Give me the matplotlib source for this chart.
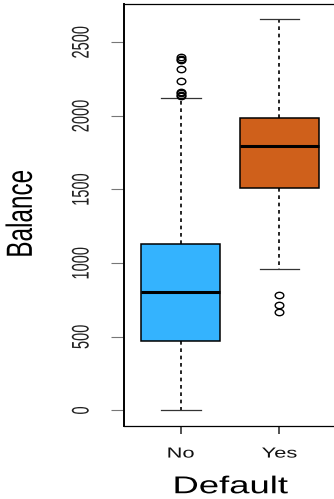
import matplotlib
matplotlib.use("Agg")
import matplotlib.pyplot as plt
from matplotlib import patheffects
from matplotlib.path import Path
from matplotlib.transforms import Affine2D

plt.rcParams['font.family'] = ['Liberation Sans', 'DejaVu Sans']

categories = ["No", "Yes"]
colors = ["#34B3FE", "#CF601B"]

# five-number summaries of balance by default status
whislo = [0, 959]
q1 = [468, 1513]
med = [805, 1794]
q3 = [1129, 1988]
whishi = [2121, 2655]
fliers_no = [2398, 2388, 2378, 2315, 2234, 2162, 2152, 2142, 2132]
fliers_yes = [785, 716, 665]

yticks = [0, 500, 1000, 1500, 2000, 2500]


class Stretch(patheffects.AbstractPathEffect):
    """Widen drawn text horizontally about its own centre."""

    def __init__(self, sx):
        super().__init__()
        self.sx = sx

    def draw_path(self, renderer, gc, tpath, affine, rgbFace=None):
        ext = tpath.transformed(affine).get_extents()
        cx = (ext.x0 + ext.x1) / 2
        affine = affine + Affine2D().translate(-cx, 0).scale(self.sx, 1).translate(cx, 0)
        renderer.draw_path(gc, tpath, affine, rgbFace)


wide = [Stretch(1.5)]
oval = Affine2D().scale(1.35, 1).transform_path(Path.unit_circle())

stats = []
for i, name in enumerate(categories):
    stats.append(dict(label=name, whislo=whislo[i], q1=q1[i], med=med[i],
                      q3=q3[i], whishi=whishi[i],
                      fliers=[fliers_no, fliers_yes][i]))

fig = plt.figure(figsize=(3.34, 4.99), dpi=100)
ax = fig.add_axes([0.37, 0.1463, 0.638, 0.8463])

bp = ax.bxp(stats, positions=[1, 2], widths=0.8, capwidths=0.4,
            patch_artist=True,
            boxprops=dict(edgecolor='black', linewidth=1.1),
            whiskerprops=dict(color='black', linewidth=1.2,
                              linestyle=(0, (2.2, 2.2))),
            capprops=dict(color='#333333', linewidth=0.9),
            medianprops=dict(color='black', linewidth=2.2),
            flierprops=dict(marker=oval, markersize=6.2, markerfacecolor='none',
                            markeredgecolor='black', markeredgewidth=1.0))
for box, c in zip(bp['boxes'], colors):
    box.set_facecolor(c)

ax.set_xlim(0.42, 2.58)
ax.set_ylim(-106, 2761)

ax.set_yticks(yticks)
ax.set_yticklabels([str(v) for v in yticks], rotation=90, va='center',
                   fontsize=10.5, color='#222222', path_effects=[Stretch(1.65)])
ax.set_xticks([1, 2])
ax.set_xticklabels(categories, fontsize=10.5, color='#111111', path_effects=wide)
ax.tick_params(axis='y', length=9.4, width=0.8, color='#777777', pad=16)
ax.tick_params(axis='x', length=5.8, width=1.2, color='#333333', pad=9)

for side in ['top', 'bottom', 'right']:
    ax.spines[side].set_linewidth(0.9)
ax.spines['left'].set_linewidth(1.4)

ax.set_ylabel("Balance", fontsize=17.5, va='center', path_effects=wide)
ax.yaxis.set_label_coords(-0.479, 0.502)
ax.set_xlabel("Default", fontsize=17.5, va='center', path_effects=wide)
ax.xaxis.set_label_coords(0.502, -0.145)

fig.savefig("out.png", dpi=100)
